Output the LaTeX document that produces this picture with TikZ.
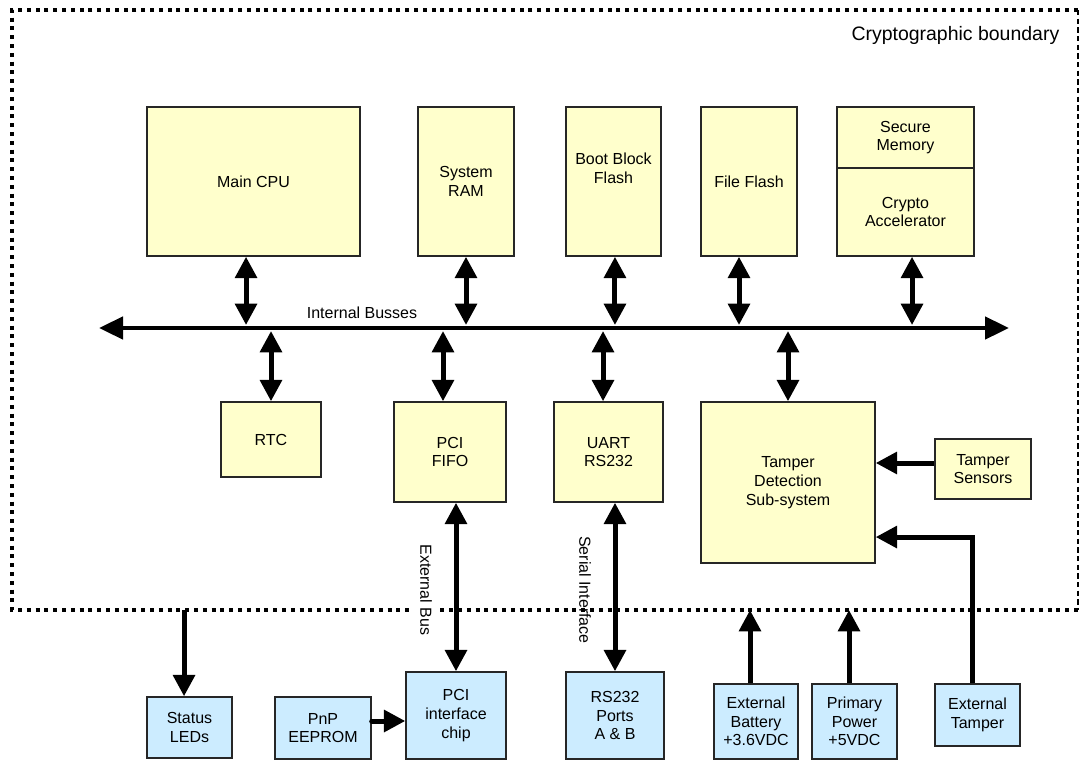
\documentclass[tikz,border=0pt]{standalone}
\usepackage{fontspec}
\setmainfont{Liberation Sans}
\usetikzlibrary{arrows.meta}

\definecolor{insidefill}{HTML}{FFFFCC}
\definecolor{outsidefill}{HTML}{CCECFF}

\tikzset{
  blk/.style={draw=black!85, line width=1.1pt, align=center, inner sep=1pt,
    font=\fontsize{12}{14}\selectfont},
  inblk/.style={blk, fill=insidefill},
  outblk/.style={blk, fill=outsidefill},
  lbl/.style={font=\fontsize{12}{14}\selectfont, inner sep=1pt},
  link/.style={line width=3.75pt, -{Triangle[length=16pt,width=16pt]}},
  dlink/.style={line width=3.75pt, {Triangle[length=16pt,width=16pt]}-{Triangle[length=16pt,width=16pt]}},
}

\begin{document}
\begin{tikzpicture}[x=0.75pt,y=-0.75pt]
\useasboundingbox (0,0) rectangle (1082,760);

% cryptographic boundary
\draw[line width=3pt, dash pattern=on 3pt off 3.6pt] (1078,10) -- (12,10) -- (12,610) -- (1078,610);
\draw[line width=1.1pt, dash pattern=on 4pt off 2.5pt] (1078,10) -- (1078,610);
\node[font=\fontsize{14.6}{16}\selectfont, anchor=east] (bndname) at (1064,35) {Cryptographic boundary};
\coordinate (bnd) at (0,610);

% upper row
\node[inblk, minimum width=159.75pt, minimum height=111.75pt] (cpu) at (253.5,181.5) {Main CPU};
\node[inblk, minimum width=72pt, minimum height=111.75pt] (ram) at (466,181.5) {System\\RAM};
\node[inblk, minimum width=71.25pt, minimum height=111.75pt] (boot) at (613.5,181.5) {Boot Block\\Flash\\[6pt]};
\node[inblk, minimum width=72pt, minimum height=111.75pt] (file) at (749,181.5) {File Flash};
\node[inblk, minimum width=102.75pt, minimum height=45.75pt] (secmem) at (905.5,137.5) {Secure\\Memory};
\node[inblk, minimum width=102.75pt, minimum height=66pt] (crypto) at (905.5,212) {Crypto\\Accelerator};

% internal busses
\coordinate (busL) at (99,328);
\coordinate (busR) at (1009,328);
\coordinate (bt) at (0,325);
\coordinate (bb) at (0,331);
\draw[line width=3.5pt, {Triangle[length=18pt,width=16.5pt]}-{Triangle[length=18pt,width=16.5pt]}] (busL) -- (busR);
\node[lbl] (busname) at (362,313) {Internal Busses};

\draw[dlink] ([xshift=-5.6pt]cpu.south) -- ([xshift=-5.6pt]cpu.south |- bt);
\draw[dlink] (ram.south) -- (ram.south |- bt);
\draw[dlink] ([xshift=1.1pt]boot.south) -- ([xshift=1.1pt]boot.south |- bt);
\draw[dlink] ([xshift=-7.5pt]file.south) -- ([xshift=-7.5pt]file.south |- bt);
\draw[dlink] ([xshift=4.9pt]crypto.south) -- ([xshift=4.9pt]crypto.south |- bt);

% lower row
\node[inblk, minimum width=75pt, minimum height=56.25pt] (rtc) at (271,439.5) {RTC};
\node[inblk, minimum width=84pt, minimum height=75pt] (fifo) at (450,452) {PCI\\FIFO};
\node[inblk, minimum width=81.75pt, minimum height=75pt] (uart) at (608.5,452) {UART\\RS232};
\node[inblk, minimum width=130.5pt, minimum height=120.75pt] (tds) at (788,482.5) {Tamper\\Detection\\Sub-system};
\node[inblk, minimum width=72pt, minimum height=45pt] (sens) at (983,469) {Tamper\\Sensors};

\draw[dlink] (rtc.north |- bb) -- (rtc.north);
\draw[dlink] ([xshift=-5.25pt]fifo.north |- bb) -- ([xshift=-5.25pt]fifo.north);
\draw[dlink] ([xshift=-4.1pt]uart.north |- bb) -- ([xshift=-4.1pt]uart.north);
\draw[dlink] (tds.north |- bb) -- (tds.north);
\draw[link] ([yshift=4.5pt]sens.west) -- ([yshift=4.5pt]sens.west -| tds.east);

% outside the boundary
\node[outblk, minimum width=63.75pt, minimum height=45.75pt] (leds) at (189.5,727.5) {Status\\LEDs};
\node[outblk, minimum width=72pt, minimum height=46.5pt] (pnp) at (323,728) {PnP\\EEPROM};
\node[outblk, minimum width=75pt, minimum height=65.25pt] (pci) at (456,715.5) {PCI\\interface\\chip};
\node[outblk, minimum width=73.5pt, minimum height=65.25pt] (ports) at (615,715.5) {RS232\\Ports\\A \& B};
\node[outblk, minimum width=63pt, minimum height=56.25pt] (batt) at (756,721.5) {External\\Battery\\+3.6VDC};
\node[outblk, minimum width=63.75pt, minimum height=56.25pt] (pwr) at (854.5,721.5) {Primary\\Power\\+5VDC};
\node[outblk, minimum width=63.75pt, minimum height=46.5pt] (ext) at (977.5,715) {External\\Tamper};

\node[lbl, rotate=-90, fill=white, inner ysep=6pt] (extbus) at (426,590) {External Bus};
\node[lbl, rotate=-90] (serial) at (585,590) {Serial Interface};

\draw[dlink] (pci.north |- fifo.south) -- (pci.north);
\draw[dlink] (ports.north |- uart.south) -- (ports.north);
\draw[link] ([xshift=-4.1pt]leds.north |- bnd) -- ([xshift=-4.1pt]leds.north);
\draw[link, line cap=round] ([yshift=5.25pt]pnp.east) -- ([yshift=5.25pt]pnp.east -| pci.west);
\draw[link] ([xshift=-4.5pt]batt.north) -- ([xshift=-4.5pt]batt.north |- bnd);
\draw[link] ([xshift=-4.1pt]pwr.north) -- ([xshift=-4.1pt]pwr.north |- bnd);
\draw[link] ([xshift=-4.1pt]ext.north) |- ([yshift=-40.9pt]tds.east);
\end{tikzpicture}
\end{document}
